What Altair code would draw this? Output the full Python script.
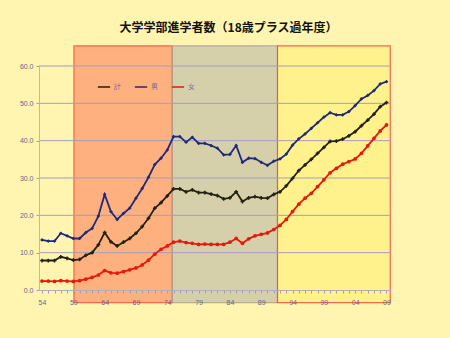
import altair as alt
import pandas as pd

years = list(range(1954, 2010))
total = [7.9, 7.9, 7.9, 8.9, 8.5, 8.0, 8.2, 9.3, 10.0, 12.1, 15.4, 12.9, 11.8, 12.8, 13.8, 15.2, 17.0, 19.2, 21.9,
         23.4, 25.2, 27.1, 27.1, 26.3, 26.8, 26.1, 26.1, 25.7, 25.3, 24.4, 24.7, 26.3, 23.7, 24.7, 25.0, 24.7, 24.6, 25.6,
         26.3, 27.9, 29.9, 32.0, 33.5, 35.0, 36.6, 38.2, 39.8, 39.9, 40.4, 41.3, 42.4, 44.0, 45.5, 47.1, 49.1, 50.2]
male = [13.4, 13.1, 13.1, 15.2, 14.5, 13.8, 13.8, 15.4, 16.5, 19.8, 25.6, 21.0, 18.9, 20.5, 21.9, 24.6, 27.2, 30.2, 33.6,
        35.3, 37.5, 41.1, 41.1, 39.6, 40.9, 39.3, 39.3, 38.7, 38.0, 36.2, 36.3, 38.7, 34.2, 35.3, 35.2, 34.2, 33.4, 34.5,
        35.1, 36.4, 38.8, 40.5, 41.8, 43.3, 44.8, 46.3, 47.5, 46.9, 46.9, 47.8, 49.4, 51.2, 52.1, 53.4, 55.2, 55.8]
female = [2.4, 2.4, 2.3, 2.5, 2.4, 2.3, 2.5, 2.9, 3.4, 4.0, 5.2, 4.6, 4.5, 4.9, 5.4, 5.9, 6.7, 8.0, 9.6,
          10.9, 11.8, 12.8, 13.1, 12.7, 12.5, 12.2, 12.3, 12.2, 12.2, 12.2, 12.8, 13.8, 12.5, 13.7, 14.5, 14.9, 15.3, 16.2,
          17.3, 18.9, 21.0, 23.0, 24.6, 25.9, 27.7, 29.5, 31.4, 32.6, 33.7, 34.4, 35.1, 36.6, 38.6, 40.6, 42.6, 44.2]
series_names = ["計", "男", "女"]
series_colors = ["#23220F", "#22297A", "#E8180C"]
series_shapes = ["cross", "diamond", "circle"]

era_start = [1959.1, 1974.8, 1991.6]
era_end = [1974.8, 1991.6, 2009.6]
era_fill = ["#FFA577", "#CECAA8", "#FFF286"]
era_stroke = ["#F05040", "#A8A098", "#F05040"]

y_ticks = [0, 10, 20, 30, 40, 50, 60]

rows = []
for name, col, shp, vals in zip(series_names, series_colors, series_shapes, [total, male, female]):
    for yr, v in zip(years, vals):
        rows.append({"year": yr, "series": name, "value": v, "col": col, "shp": shp})
df = pd.DataFrame(rows)
eras = pd.DataFrame({"start": era_start, "end": era_end, "fill": era_fill, "stroke": era_stroke,
                     "lo": [-3.4] * 3, "hi": [65.4] * 3})
grid = pd.DataFrame({"v": y_ticks[1:]})

xscale = alt.Scale(domain=[1953.52, 2009.56], nice=False, zero=False)
yscale = alt.Scale(domain=[0, 60], nice=False)

xaxis = alt.Axis(
    values=years,
    labelExpr="(datum.value - 1954) % 5 == 0 ? slice(format(datum.value, 'd'), 2) : ''",
    labelOverlap=False, labelFontSize=7, labelColor="#6B6290", labelFont="Liberation Sans",
    tickSize=3, tickColor="#A0A0A8", domainColor="#B0B0B8", labelPadding=5,
    grid=False, title=None, zindex=1,
)
yaxis = alt.Axis(
    values=y_ticks, format=".1f", labelFontSize=7, labelColor="#6B6290", labelFont="Liberation Sans",
    tickSize=3, tickColor="#A0A0A8", domainColor="#B8B8C0", labelPadding=3, grid=False, title=None,
    zindex=1,
)

bands = alt.Chart(eras).mark_rect(opacity=0.85, strokeWidth=1.2).encode(
    x=alt.X("start:Q", scale=xscale, axis=xaxis),
    x2="end:Q",
    y=alt.Y("lo:Q", scale=yscale, axis=yaxis),
    y2="hi:Q",
    fill=alt.Fill("fill:N", scale=None),
    stroke=alt.Stroke("stroke:N", scale=None),
)

gridlines = alt.Chart(grid).mark_rule(color="#A69CC4", strokeWidth=1).encode(
    y=alt.Y("v:Q", scale=yscale, axis=yaxis)
)

lines = alt.Chart(df).mark_line(strokeWidth=1.8).encode(
    x=alt.X("year:Q", scale=xscale, axis=xaxis),
    y=alt.Y("value:Q", scale=yscale, axis=yaxis),
    color=alt.Color(
        "series:N",
        scale=alt.Scale(domain=series_names, range=series_colors),
        legend=alt.Legend(
            orient="none", legendX=58, legendY=14, direction="horizontal", title=None,
            symbolType="stroke", symbolSize=150, symbolStrokeWidth=1.5, labelFontSize=7,
            labelColor="#6B6290", labelFont="Liberation Sans", columnPadding=10, labelOffset=3,
        ),
    ),
)

points = alt.Chart(df).mark_point(filled=True, size=14, opacity=1).encode(
    x=alt.X("year:Q", scale=xscale, axis=xaxis),
    y=alt.Y("value:Q", scale=yscale, axis=yaxis),
    fill=alt.Fill("col:N", scale=None),
    shape=alt.Shape("shp:N", scale=None),
)

chart = alt.layer(bands, gridlines, lines, points).properties(
    width=351, height=224,
    padding={"left": 39, "top": 66, "right": 60, "bottom": 48},
    autosize=alt.AutoSizeParams(type="none"),
    background="#FFF5B0",
    title=alt.TitleParams(
        "大学学部進学者数（18歳プラス過年度）", font="Noto Sans CJK JP", fontSize=12,
        fontWeight="bold", color="#111111", anchor="middle", dx=14, offset=-2, baseline="bottom",
    ),
).configure_view(stroke=None)

chart.save("out.html", embed_options={"renderer": "svg", "actions": False})
